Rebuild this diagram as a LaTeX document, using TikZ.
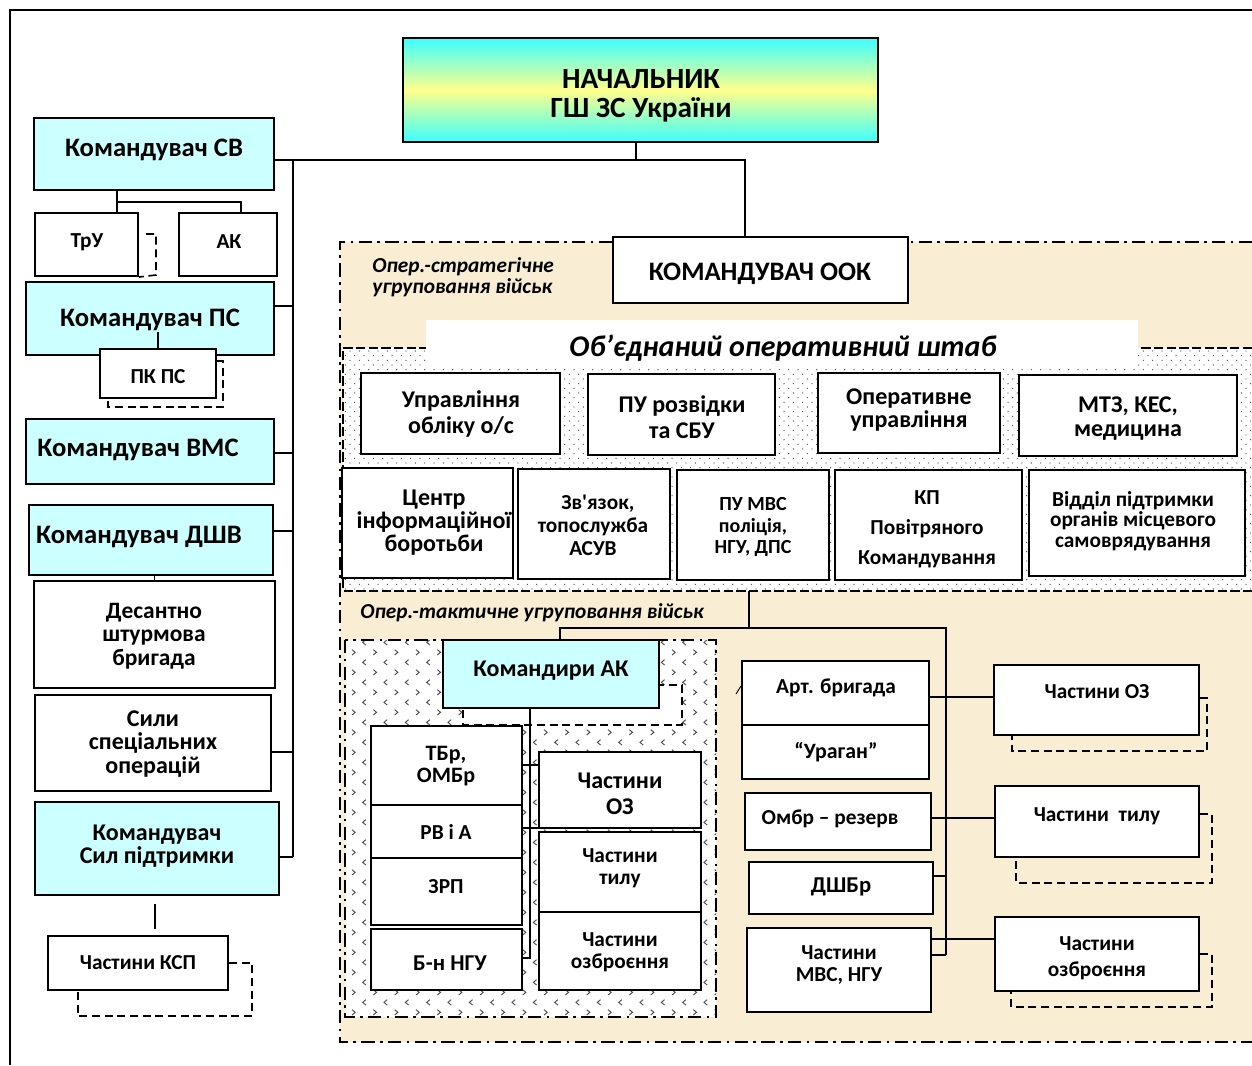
\documentclass[tikz,border=0pt]{standalone}
\usepackage{fontspec}
\setmainfont{Carlito}
\usetikzlibrary{fit,calc,patterns.meta}

\definecolor{paleCyan}{RGB}{204,255,255}
\definecolor{headCyan}{RGB}{60,255,255}
\definecolor{headYellow}{RGB}{255,255,140}
\definecolor{parchment}{RGB}{249,238,212}

% small "<" and ">" marks used to fill the tactical group area
\tikzdeclarepattern{
  name=chevrons,
  type=uncolored,
  bounding box={(-0.6pt,-0.6pt) and (11pt,12.1pt)},
  tile size={(16pt,15pt)},
  code={
    \draw[line width=0.7pt] (2.4pt,0pt) -- (0pt,2pt) -- (2.4pt,4pt);
    \draw[line width=0.7pt] (8pt,7.5pt) -- (10.4pt,9.5pt) -- (8pt,11.5pt);
  }
}
% staggered fine dots used to fill the headquarters area
\tikzdeclarepattern{
  name=finedots,
  type=uncolored,
  bounding box={(-0.6pt,-0.6pt) and (4.1pt,4.1pt)},
  tile size={(7pt,7pt)},
  code={
    \fill (0pt,0pt) circle (0.5pt);
    \fill (3.5pt,3.5pt) circle (0.5pt);
  }
}

\begin{document}
\begin{tikzpicture}[x=0.75pt,y=-0.75pt,
  box/.style={draw, line width=1.5pt, fill=white, inner sep=0pt},
  cbox/.style={box, fill=paleCyan},
  shadowline/.style={line width=1.2pt, dash pattern=on 6pt off 3.5pt},
  conn/.style={line width=1pt},
  txt/.style 2 args={font=\fontsize{#1}{#2}\selectfont\bfseries, align=center, inner sep=0pt},
  itxt/.style 2 args={font=\fontsize{#1}{#2}\selectfont\bfseries\itshape, align=left, inner sep=0pt},
  dashdot/.style={line width=1.6pt, dash pattern=on 10pt off 4pt on 2pt off 4pt},
  dashedge/.style={line width=1.3pt, dash pattern=on 7pt off 2.5pt},
]
\useasboundingbox (0,0) rectangle (1252,1065);

% outer frame
\draw[line width=1.2pt] (10,1065) -- (10,10) -- (1252,10);

% operational-strategic group area
\fill[parchment] (340,242) rectangle (1252,1042);
\draw[dashdot] (1252,242) -- (340,242) -- (340,1042) -- (1252,1042);

% joint headquarters area (dotted)
\fill[white] (343,348) rectangle (1252,591);
\fill[pattern=finedots, pattern color=black!70] (343,348) rectangle (1252,591);
\draw[dashedge] (1252,348) -- (343,348) -- (343,591) -- (1252,591);
\node[fill=white, inner sep=0pt, fit={(426,320)(1138,366)}] (band) {};
\node[itxt={22.5}{26}] (shtabT) at (783,348) {Об’єднаний оперативний штаб};

% operational-tactical group area (chevrons)
\fill[white] (345,640) rectangle (716,1017);
\fill[pattern=chevrons, pattern color=black!70] (345,640) rectangle (716,1017);
\draw[dashdot] (345,640) rectangle (716,1017);

% shadow behind the corps commanders box
\filldraw[fill=white, shadowline] (463,685) rectangle (682,725);

% ---------- top ----------
\node[draw, line width=2pt, inner sep=0pt, top color=headCyan, bottom color=headCyan,
      middle color=headYellow, fit={(403,38)(878,142)}] (chief) {};
\node[txt={22}{22}] (chiefT) at (641,96) {НАЧАЛЬНИК\\ГШ ЗС України};

% ---------- left column ----------
\node[cbox, fit={(34,118)(274,190)}] (sv) {};
\node[txt={20}{24}] (svT) at (154,150) {Командувач СВ};
\node[box, fit={(35,213)(138,276)}] (tru) {};
\node[txt={16}{18}] (truT) at (87,242) {ТрУ};
\node[box, fit={(179,213)(277,276)}] (ak) {};
\node[txt={16}{18}] (akT) at (229,242) {АК};
\node[cbox, fit={(26,282)(274,355)}] (ps) {};
\node[txt={20}{24}] (psT) at (150,320) {Командувач ПС};
\node[box, fit={(100,349)(216,398)}] (pkps) {};
\node[txt={16}{18}] (pkpsT) at (158,377) {ПК ПС};
\node[cbox, fit={(26,419)(274,484)}] (vms) {};
\node[txt={20}{24}] (vmsT) at (138,450) {Командувач ВМС};
\node[cbox, fit={(29,505)(273,575)}] (dshv) {};
\node[txt={20}{24}] (dshvT) at (139,537) {Командувач ДШВ};
\node[box, fit={(34,581)(275,688)}] (desant) {};
\node[txt={17.6}{17.6}] (desantT) at (154,636) {Десантно\\штурмова\\бригада};
\node[box, fit={(35,695)(271,791)}] (sso) {};
\node[txt={18}{17.6}] (ssoT) at (153,744) {Сили\\спеціальних\\операцій};
\node[cbox, fit={(35,802)(279,895)}] (pidt) {};
\node[txt={18}{17.5}] (pidtT) at (157,846) {Командувач\\Сил підтримки};
\node[box, fit={(48,936)(228,990)}] (ksp) {};
\node[txt={16}{18}] (kspT) at (138,963) {Частини КСП};

% ---------- operational-strategic group ----------
\node[box, fit={(613,237)(908,303)}] (ook) {};
\node[txt={20}{24}] (ookT) at (760,274) {КОМАНДУВАЧ ООК};
\node[itxt={16}{16}, anchor=west] (lblA) at (372,277) {Опер.-стратегічне\\угруповання військ};

\node[box, fit={(361,373)(560,454)}] (u1) {};
\node[txt={18}{19.5}] (u1T) at (461,414) {Управління\\обліку о/с};
\node[box, fit={(588,374)(775,455)}] (u2) {};
\node[txt={18}{19}] (u2T) at (682,417) {ПУ розвідки\\та СБУ};
\node[box, fit={(818,373)(1000,453)}] (u3) {};
\node[txt={18}{17.5}] (u3T) at (909,410) {Оперативне\\управління};
\node[box, fit={(1019,375)(1237,456)}] (u4) {};
\node[txt={18}{18}] (u4T) at (1128,419) {МТЗ, КЕС,\\медицина};

\node[box, fit={(342,468)(513,578)}] (d1) {};
\node[txt={18}{17.3}] (d1T) at (434,523) {Центр\\інформаційної\\боротьби};
\node[box, fit={(518,469)(670,579)}] (d2) {};
\node[txt={16}{17.3}] (d2T) at (593,525) {\ \ Зв\textquotesingle язок,\\топослужба\\АСУВ};
\node[box, fit={(677,470)(829,580)}] (d3) {};
\node[txt={15}{16}] (d3T) at (753,527) {ПУ МВС\\поліція,\\НГУ, ДПС};
\node[box, fit={(835,470)(1022,580)}] (d4) {};
\node[txt={16}{22.5}] (d4T) at (927,529) {КП\\Повітряного\\Командування};
\node[box, fit={(1029,470)(1245,576)}] (d5) {};
\node[txt={16}{15.5}] (d5T) at (1133,521) {Відділ підтримки\\органів місцевого\\самоврядування};

\node[itxt={16}{18}, anchor=west] (lblB) at (360,613) {Опер.-тактичне угруповання військ};

% ---------- operational-tactical group ----------
\node[cbox, fit={(443,640)(659,708)}] (cak) {};
\node[txt={18}{20}] (cakT) at (551,671) {Командири АК};
\node[box, fit={(371,726)(522,805)}] (tbr) {};
\node[txt={16.5}{16}] (tbrT) at (446,766) {ТБр,\\ОМБр};
\node[box, fit={(371,805)(522,858)}] (rva) {};
\node[txt={16}{18}] (rvaT) at (446,832) {РВ і А};
\node[box, fit={(371,858)(522,925)}] (zrp) {};
\node[txt={16}{18}] (zrpT) at (446,887) {ЗРП};
\node[box, fit={(371,929)(522,990)}] (bngu) {};
\node[txt={17}{18}] (bnguT) at (450,963) {Б-н НГУ};
\node[box, fit={(539,752)(701,828)}] (oz1) {};
\node[txt={18}{19.5}] (oz1T) at (620,794) {Частини\\ОЗ};
\node[box, fit={(539,832)(701,912)}] (tyl1) {};
\node[txt={16}{16.5}] (tyl1T) at (620,868) {Частини\\тилу};
\node[box, fit={(539,912)(701,990)}] (ozb1) {};
\node[txt={16}{16.5}] (ozb1T) at (620,952) {Частини\\озброєння};

% ---------- right column ----------
\node[box, fit={(742,661)(929,725)}] (art) {};
\node[txt={16}{18}] (artT) at (836,688) {Арт. бригада};
\node[box, fit={(742,725)(929,779)}] (urag) {};
\node[txt={16.4}{18}] (uragT) at (836,752) {“Ураган”};
\node[box, fit={(745,793)(931,850)}] (ombr) {};
\node[txt={16}{18}] (ombrT) at (830,819) {Омбр – резерв};
\node[box, fit={(749,862)(933,914)}] (dshbr) {};
\node[txt={17}{18}] (dshbrT) at (841,887) {ДШБр};
\node[box, fit={(747,928)(931,1012)}] (mvs) {};
\node[txt={16}{16.5}] (mvsT) at (839,965) {Частини\\МВС, НГУ};
\node[box, fit={(994,665)(1199,735)}] (oz2) {};
\node[txt={16}{18}] (oz2T) at (1097,692) {Частини ОЗ};
\node[box, fit={(995,786)(1199,857)}] (tyl2) {};
\node[txt={16}{18}] (tyl2T) at (1097,816) {Частини\ \ тилу};
\node[box, fit={(995,917)(1199,991)}] (ozb2) {};
\node[txt={16}{19.5}] (ozb2T) at (1097,958) {Частини\\озброєння};

% ---------- dashed shadows ----------
\draw[shadowline] ($(tru.north east)+(7,22)$) -- ++(10,0) -- ++(0,41) -- (tru.south east);
\draw[shadowline] ($(pkps.north east)+(0,13)$) -- ++(6,0) -- ++(0,46) -- ++(-115,0) -- ++(0,-10);
\draw[shadowline] (ksp.east) -- ++(23,0) -- ++(0,53) -- ++(-174,0) -- ++(0,-26);
\draw[shadowline] ($(oz2.north east)+(0,34)$) -- ++(7,0) -- ++(0,53) -- ++(-195,0) -- ++(0,-17);
\draw[shadowline] ($(tyl2.north east)+(0,29)$) -- ++(12,0) -- ++(0,69) -- ++(-196,0) -- ++(0,-27);
\draw[shadowline] ($(ozb2.north east)+(0,38)$) -- ++(12,0) -- ++(0,53) -- ++(-201,0) -- ++(0,-17);

% ---------- connectors ----------
\coordinate (j0) at (636,160);
\coordinate (j1) at (745,160);
\draw[conn] (j0 |- chief.south) -- (j0);
\draw[conn] (sv.east |- j0) -- (j1) -- (j1 |- ook.north);

% left bus
\coordinate (busT) at (293,160);
\coordinate (bPS) at (293,306);
\coordinate (bVMS) at (293,453);
\coordinate (bDSHV) at (293,531);
\coordinate (bSSO) at (293,752);
\coordinate (busB) at (293,857);
\draw[conn] (busT) -- (busB);
\draw[conn] (bPS) -- (bPS -| ps.east);
\draw[conn] (bVMS) -- (bVMS -| vms.east);
\draw[conn] (bDSHV) -- (bDSHV -| dshv.east);
\draw[conn] (bSSO) -- (bSSO -| sso.east);
\draw[conn] (busB) -- (busB -| pidt.east);

\coordinate (svj) at (117,202);
\coordinate (akj) at (241,202);
\draw[conn] (svj |- sv.south) -- (svj |- tru.north);
\draw[conn] (svj) -- (akj) -- (akj |- ak.north);
\draw[conn] (pkps.north) -- ++(0,-16);
\draw[conn] (desant.north) -- (desant.north |- dshv.south);
\draw[conn] ($(pidt.south)+(-2,8)$) -- ($(pidt.south)+(-2,33)$);

% from the headquarters to the tactical level
\coordinate (hqb) at (749,591);
\coordinate (j2) at (749,628);
\coordinate (j3) at (560,628);
\coordinate (j4) at (946,628);
\coordinate (j5) at (946,955);
\draw[conn] (hqb) -- (j2);
\draw[conn] (j3 |- cak.north) -- (j3) -- (j4) -- (j5);

\coordinate (r1) at (946,697);
\coordinate (r2) at (946,818);
\coordinate (r3) at (946,876);
\coordinate (r4) at (946,939);
\draw[conn] (r1 -| art.east) -- (r1 -| oz2.west);
\draw[conn] (r2 -| ombr.east) -- (r2 -| tyl2.west);
\draw[conn] (r3 -| dshbr.east) -- (r3);
\draw[conn] (r4 -| mvs.east) -- (r4 -| ozb2.west);
\draw[conn] (j5 -| mvs.east) -- (j5);
\draw[conn, line width=0.7pt] ($(art.west)+(-5,1)$) -- ++(5,-8);

% inside the corps group
\coordinate (ia) at (530,958);
\coordinate (ij1) at (530,765);
\coordinate (ij2) at (530,828);
\draw[conn] (cak.south -| ia) -- (ia) -- (ia -| bngu.east);
\draw[conn] (ij1 -| tbr.east) -- (ij1 -| oz1.west);
\draw[conn] (ij2 -| rva.east) -- (ij2 -| oz1.west);

\end{tikzpicture}
\end{document}
